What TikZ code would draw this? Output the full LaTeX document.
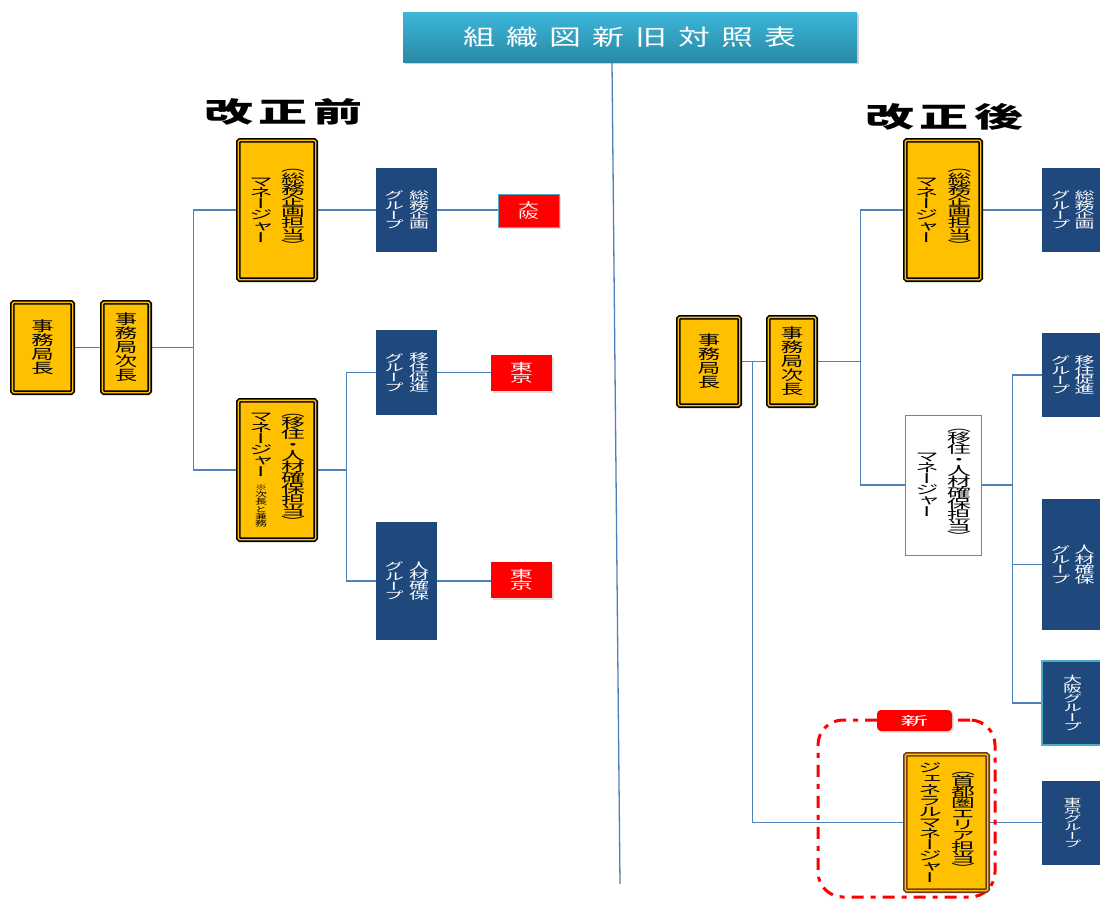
\documentclass[tikz,border=0pt]{standalone}
\usepackage{fontspec}
\usepackage{graphicx}
\usetikzlibrary{shadows,backgrounds}
\setmainfont{Noto Sans CJK JP}
\newfontfamily\jpv[RawFeature=+vert]{Noto Sans CJK JP}
\newfontfamily\jph{Noto Sans CJK JP}
\definecolor{orng}{HTML}{FFC000}
\definecolor{lblue}{HTML}{4F81BD}
\definecolor{gblue}{HTML}{1F497D}
\definecolor{teal1}{HTML}{4BACC6}
\definecolor{ttop}{HTML}{3CB6D9}
\definecolor{tbot}{HTML}{2A8AA6}
\definecolor{brn}{HTML}{6B3A26}
\def\vcolEnd{\relax}
\newcommand\vsx{1.9}
\def\vcolA#1{\ifx#1\vcolEnd\else\hbox to 0pt{\hss\scalebox{\vsx}[1]{#1}\hss}\expandafter\vcolA\fi}
\newcommand\vlines[3]{\fontsize{#1}{#2}\selectfont\lineskiplimit=-1000pt\lineskip=0pt\relax\vcolA#3\vcolEnd}
\newcommand\vcol[3]{$\vcenter{\vlines{#1}{#2}{#3}}$}
\newcommand\twocol[5]{\hbox{\vcol{#1}{#2}{#3}\kern#5\relax\vcol{#1}{#2}{#4}}}
\tikzset{
  conn/.style={draw=lblue,line width=1.3pt},
  obox/.style={draw=black,double=orng,double distance=1.4pt,line width=1.6pt,fill=orng,rounded corners=1.5pt,inner sep=0pt,font=\jpv,text=black},
  gmbox/.style={obox,draw=brn},
  wbox/.style={draw=gray,line width=1pt,fill=white,inner sep=0pt,font=\jpv,text=black},
  gbox/.style={fill=gblue,inner sep=0pt,minimum width=61pt,text=white,font=\jpv},
  rbox/.style={fill=red,inner sep=0pt,minimum width=61pt,text=white,font=\jpv,drop shadow={shadow xshift=1.5pt,shadow yshift=-1.5pt,opacity=0.25}},
  ttl/.style={top color=ttop,bottom color=tbot,inner sep=0pt,minimum width=454pt,minimum height=50pt,text=white,font=\jph\fontsize{22}{24}\selectfont,drop shadow={shadow xshift=2pt,shadow yshift=-2pt,opacity=0.35}},
  head/.style={inner sep=0pt,font=\jph\bfseries\fontsize{28}{29}\selectfont,text=black},
  newlbl/.style={fill=red,rounded corners=4pt,minimum width=75pt,minimum height=21pt,inner sep=0pt,text=white,font=\jph\fontsize{12}{13}\selectfont,drop shadow={shadow xshift=1.5pt,shadow yshift=-1.5pt,opacity=0.3}},
  dframe/.style={draw=red,line width=3pt,dash pattern=on 12pt off 7pt on 5pt off 7pt,rounded corners=25pt,minimum width=177pt,minimum height=177pt,inner sep=0pt}
}
\begin{document}
\begin{tikzpicture}[x=1pt,y=-1pt]
\useasboundingbox (0,0) rectangle (1100,900);
\clip (0,0) rectangle (1100,900);
% title and headings
\node[ttl] (T) at (630,37) {\scalebox{1.45}[1]{組\kern7.6pt織\kern7.6pt図\kern7.6pt新\kern7.6pt旧\kern7.6pt対\kern7.6pt照\kern7.6pt表}};
\coordinate (sepEnd) at (620,884);
\node[head] (before) at (283.5,112) {\scalebox{1.75}[1]{改\kern2.9pt正\kern2.9pt前}};
\node[head] (after) at (944.5,117) {\scalebox{1.75}[1]{改\kern2.9pt正\kern2.9pt後}};
% left (before)
\node[obox,minimum width=60.4pt,minimum height=90.4pt] (L1) at (42.5,347.5) {\def\vsx{1.6}\vcol{14}{14}{事務局長}};
\node[obox,minimum width=47.4pt,minimum height=90.4pt] (L2) at (126,347.5) {\def\vsx{1.6}\vcol{14}{14}{事務局次長}};
\node[obox,minimum width=77.4pt,minimum height=139.4pt] (M1) at (277,210) {\twocol{12.5}{11.2}{マネージャー}{（総務企画担当）}{32pt}};
\node[obox,minimum width=77.4pt,minimum height=139.4pt] (M2) at (277,470) {\hbox{$\vcenter{\vlines{12.5}{11}{マネージャー}\kern7pt{\def\vsx{1.6}\vlines{7.5}{7.2}{※次長と兼務}}}$\kern32pt\vcol{12.5}{11}{（移住・人材確保担当）}}};
\node[gbox,minimum height=84pt] (G1) at (406.5,210) {\twocol{10.5}{9.8}{グループ}{総務企画}{25pt}};
\node[gbox,minimum height=85pt] (G2) at (406.5,372.5) {\twocol{10.5}{9.8}{グループ}{移住促進}{25pt}};
\node[gbox,minimum height=118pt] (G3) at (406.5,581) {\twocol{10.5}{9.8}{グループ}{人材確保}{25pt}};
\node[rbox,draw=teal1,line width=1pt,minimum height=33pt] (R1) at (528.5,210.5) {\def\vsx{2.2}\vcol{9.5}{9.5}{大阪}};
\node[rbox,minimum height=36pt] (R2) at (521.5,373) {\def\vsx{2.1}\vcol{11}{10.5}{東京}};
\node[rbox,minimum height=36pt] (R3) at (521.5,580) {\def\vsx{2.1}\vcol{11}{10.5}{東京}};
% right (after)
\node[obox,minimum width=61.4pt,minimum height=88.4pt] (RL1) at (709,361.5) {\def\vsx{1.6}\vcol{14}{14}{事務局長}};
\node[obox,minimum width=47.4pt,minimum height=88.4pt] (RL2) at (792,361.5) {\def\vsx{1.6}\vcol{14}{14}{事務局次長}};
\node[obox,minimum width=75.4pt,minimum height=139.4pt] (RM1) at (943,210) {\twocol{12.5}{11.2}{マネージャー}{（総務企画担当）}{33pt}};
\node[wbox,minimum width=76pt,minimum height=140pt] (RM2) at (943,485) {\twocol{12.5}{11}{マネージャー}{（移住・人材確保担当）}{32pt}};
\node[dframe] (F) at (906.5,808.5) {};
\node[newlbl] (N) at (914.5,720.5) {\scalebox{2.3}[1]{新}};
\node[gmbox,minimum width=82.4pt,minimum height=136.4pt] (GM) at (946.5,822.5) {\twocol{12.5}{11}{ジェネラルマネージャー}{（首都圏エリア担当）}{33pt}};
\node[gbox,minimum height=84pt] (RG1) at (1072.5,210) {\twocol{10.5}{9.8}{グループ}{総務企画}{24pt}};
\node[gbox,minimum height=84pt] (RG2) at (1072.5,375) {\twocol{10.5}{9.8}{グループ}{移住促進}{24pt}};
\node[gbox,minimum height=131pt] (RG3) at (1072.5,564.5) {\twocol{10.5}{9.8}{グループ}{人材確保}{24pt}};
\node[gbox,draw=teal1,line width=1.5pt,minimum height=84pt] (RG4) at (1072.5,703) {\vcol{10}{9.5}{大阪グループ}};
\node[gbox,minimum height=84pt] (RG5) at (1072.5,823) {\def\vsx{2}\vcol{9}{8.5}{東京グループ}};
% connectors
\begin{scope}[on background layer]
\fill[white] (0,0) rectangle (1100,900);
\draw[conn] ([xshift=-18pt]T.south) -- (sepEnd);
\draw[conn] (L1.east) -- (L2.west);
\draw[conn] (L2.east) -- ++(43,0) coordinate (lj);
\draw[conn] (M1.west) -| (lj) |- (M2.west);
\draw[conn] (M1.east) -- (G1.west);
\draw[conn] (G1.east) -- (G1.east -| R1.west);
\draw[conn] (M2.east) -- ++(30,0) coordinate (lk);
\draw[conn] (G2.west) -| (lk) |- (G3.west);
\draw[conn] (G2.east) -- (G2.east -| R2.west);
\draw[conn] (G3.east) -- (G3.east -| R3.west);
\draw[conn] (RL1.east) -- (RL2.west);
\draw[conn] (RL1.east) -- ++(12,0) |- (GM.west);
\draw[conn] (RL2.east) -- ++(44,0) coordinate (rj);
\draw[conn] (RM1.west) -| (rj) |- (RM2.west);
\draw[conn] (RM1.east) -- (RM1.east -| RG1.west);
\draw[conn] (RM2.east) -- ++(31,0) coordinate (rk);
\draw[conn] (RG2.west) -| (rk) |- (RG4.west);
\draw[conn] (rk |- RG3.west) -- (RG3.west);
\draw[conn] (GM.east) -- (GM.east -| RG5.west);
\end{scope}
\end{tikzpicture}
\end{document}
